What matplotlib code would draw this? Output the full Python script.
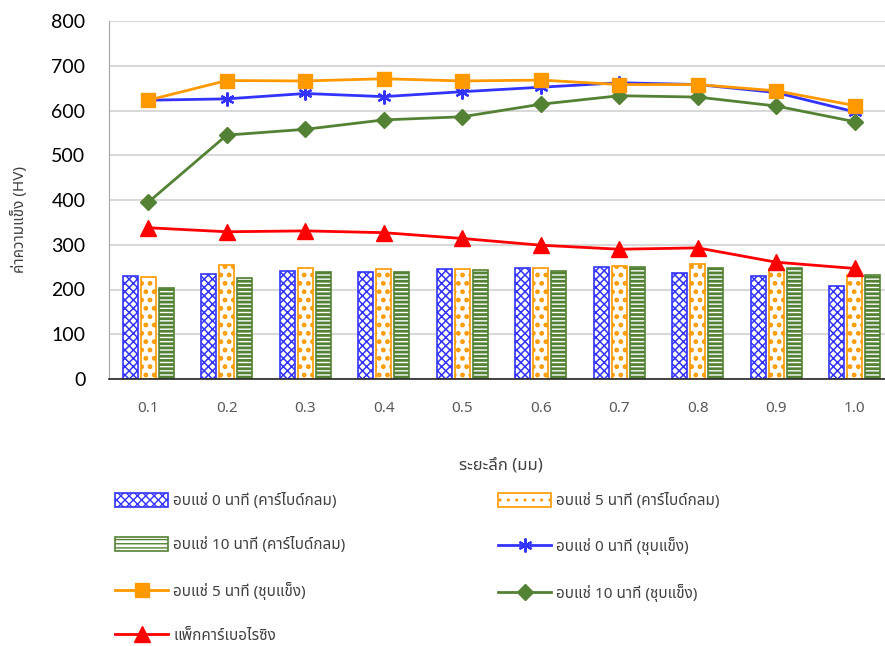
import matplotlib
matplotlib.use("Agg")
import matplotlib.pyplot as plt
from matplotlib import font_manager
from matplotlib.ft2font import FT2Font

# ---- data -------------------------------------------------------------
depths = ["0.1", "0.2", "0.3", "0.4", "0.5", "0.6", "0.7", "0.8", "0.9", "1.0"]

carbide_0 = [231, 234, 241, 238, 246, 247, 250, 237, 230, 207]
carbide_5 = [227, 255, 249, 245, 246, 247, 252, 258, 245, 232]
carbide_10 = [204, 226, 238, 240, 243, 241, 251, 249, 249, 232]

hard_0 = [623, 626, 638, 631, 642, 652, 662, 658, 640, 597]
hard_5 = [623, 667, 666, 671, 666, 668, 658, 658, 644, 611]
hard_10 = [395, 545, 558, 579, 586, 614, 633, 630, 610, 575]

pack = [338, 329, 331, 327, 314, 299, 290, 293, 261, 247]

labels = [
    "อบแช่ 0 นาที (คาร์ไบด์กลม)",
    "อบแช่ 5 นาที (คาร์ไบด์กลม)",
    "อบแช่ 10 นาที (คาร์ไบด์กลม)",
    "อบแช่ 0 นาที (ชุบแข็ง)",
    "อบแช่ 5 นาที (ชุบแข็ง)",
    "อบแช่ 10 นาที (ชุบแข็ง)",
    "แพ็กคาร์เบอไรซิง",
]
x_title = "ระยะลึก (มม)"
y_title = "ค่าความแข็ง (HV)"


def find_thai_family():
    """Return the name of an installed family that covers Thai script."""
    preferred = ["Noto Sans Thai", "Noto Sans Thai UI", "Sarabun", "Loma",
                 "Garuda", "Tlwg Typo", "Kinnari", "Norasi", "Waree"]
    found = {}
    for f in font_manager.fontManager.ttflist:
        if f.name in found:
            continue
        try:
            cmap = FT2Font(f.fname).get_charmap()
        except Exception:
            continue
        if 0x0E01 in cmap and 0x0E32 in cmap and 0x0E48 in cmap:
            found[f.name] = True
    for name in preferred:
        if name in found:
            return name
    return next(iter(found), None)


thai = find_thai_family()
thai_fam = [thai, "DejaVu Sans"] if thai else ["DejaVu Sans"]
plt.rcParams["font.family"] = thai_fam

BLUE = "#3333ff"
ORANGE = "#ff9900"
GREEN = "#548235"
RED = "#ff0000"

W, H = 885, 646
fig = plt.figure(figsize=(W / 100, H / 100), dpi=100)
ax = fig.add_axes([109 / W, (H - 379) / H, 785 / W, 358 / H])

x = list(range(len(depths)))
bw = 0.19
off = 0.23


def hatched_bars(xs, ys, color, hatch, hatch_lw):
    with plt.rc_context({"hatch.linewidth": hatch_lw}):
        bars = ax.bar(xs, ys, width=bw, facecolor="white", edgecolor=color,
                      hatch=hatch, linewidth=1.2, zorder=2)
        for p in bars:
            if hasattr(p, "set_hatch_linewidth"):
                p.set_hatch_linewidth(hatch_lw)
    return bars


b0 = hatched_bars([i - off for i in x], carbide_0, BLUE, "xxxx", 1.1)
b5 = hatched_bars(x, carbide_5, ORANGE, "..", 2.2)
b10 = hatched_bars([i + off for i in x], carbide_10, GREEN, "----", 2.0)

l0, = ax.plot(x, hard_0, color=BLUE, lw=2, marker=(6, 2, 0), ms=10,
              mew=1.6, mec=BLUE, zorder=3)
l5, = ax.plot(x, hard_5, color=ORANGE, lw=2, marker="s", ms=10.5,
              mfc=ORANGE, mec=ORANGE, zorder=4)
l10, = ax.plot(x, hard_10, color=GREEN, lw=2, marker="D", ms=8,
               mfc=GREEN, mec=GREEN, zorder=3)
lp, = ax.plot(x, pack, color=RED, lw=2, marker="^", ms=11,
              mfc=RED, mec=RED, zorder=3)

ax.set_xlim(-0.5, len(depths) - 0.5)
ax.set_ylim(0, 800)
ax.set_yticks(range(0, 801, 100))
ax.set_xticks(x)
ax.set_xticklabels(depths, color="#595959", fontsize=11)
for t in ax.get_yticklabels():
    t.set_fontfamily(["Lato", "DejaVu Sans"])
    t.set_fontsize(14)
ax.tick_params(axis="both", length=0)
ax.tick_params(axis="y", pad=17)
ax.tick_params(axis="x", pad=16)

ax.grid(axis="y", color="#d9d9d9", lw=1.5, zorder=0)
ax.set_axisbelow(True)
for s in ["top", "right"]:
    ax.spines[s].set_visible(False)
ax.spines["left"].set_color("#a6a6a6")
ax.spines["bottom"].set_color("#262626")
ax.spines["bottom"].set_linewidth(1.2)

fig.text(20 / W, 1 - 220 / H, y_title, rotation=90, ha="center",
         va="center", fontsize=11, color="#404040")
fig.text(501 / W, 1 - 466 / H, x_title, ha="center", va="center",
         fontsize=12, color="#404040")

legend_kw = dict(loc="upper left", frameon=False, borderpad=0,
                 borderaxespad=0, handlelength=3.5, handleheight=1.0,
                 handletextpad=0.3, labelspacing=1.85, fontsize=11,
                 labelcolor="#404040")
fig.legend([b0, b10, l5, lp], [labels[0], labels[2], labels[4], labels[6]],
           bbox_to_anchor=(115 / W, 1 - 493 / H), **legend_kw)
fig.legend([b5, l0, l10], [labels[1], labels[3], labels[5]],
           bbox_to_anchor=(498 / W, 1 - 493 / H), **legend_kw)

fig.savefig("out.png", dpi=100)
